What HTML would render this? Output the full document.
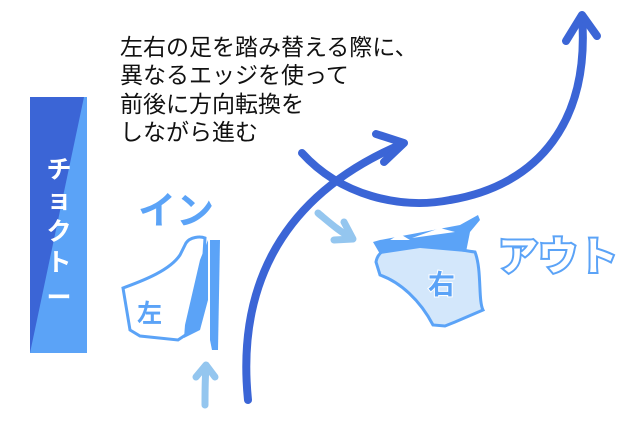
<!DOCTYPE html>
<html><head><meta charset="utf-8"><style>
html,body{margin:0;padding:0;background:#fff;width:629px;height:431px;overflow:hidden}
svg{display:block}
</style></head><body>
<svg width="629" height="431" viewBox="0 0 629 431" xmlns="http://www.w3.org/2000/svg" font-family="Liberation Sans, Noto Sans CJK JP, sans-serif">
<!-- banner -->
<rect x="30" y="97" width="57" height="256" fill="#5ba3f7"/>
<polygon points="30,97 84,97 30,353" fill="#3b65d6"/>
<g fill="#fff" font-size="25" font-weight="bold" text-anchor="middle">
<text x="59" y="178">チ</text>
<text x="59" y="208">ョ</text>
<text x="59" y="240">ク</text>
<text x="59" y="271">ト</text>
<text x="59" y="306">ー</text>
</g>
<!-- text -->
<g fill="#111" font-size="23">
<text x="120" y="55">左右の足を踏み替える際に、</text>
<text x="120" y="83">異なるエッジを使って</text>
<text x="120" y="112">前後に方向転換を</text>
<text x="120" y="140">しながら進む</text>
</g>
<!-- big arrows -->
<g fill="none" stroke="#3b65d6" stroke-width="8" stroke-linecap="round" stroke-linejoin="round">
<path d="M248,400 C238,300 270,200 402,144"/>
<path d="M376,134 L404,143 L384,162"/>
<path d="M302,153 C340,195 400,210 450,200 C540,185 590,120 582,16"/>
<path d="M566,41 L582,15 L597,36"/>
</g>
<!-- small arrows -->
<g fill="none" stroke="#94c6ef" stroke-width="7" stroke-linecap="round" stroke-linejoin="round">
<path d="M205,405 C205,390 205,378 206,368"/>
<path d="M196,377 L206,365 L215,377"/>
<path d="M318,213 C330,223 340,232 352,238"/>
<path d="M344,222 L353,239 L334,240"/>
</g>
<!-- left boot -->
<text x="138" y="224" font-size="38" font-weight="bold" fill="#5ba3f7">イン</text>
<path d="M123,288 C145,280 170,270 180,255 L186,243 C190,237 200,236 205,238 L200,320 L190,332 L178,340 L140,336 L130,330 Z" fill="#fff" stroke="#5ba3f7" stroke-width="3"/>
<path d="M200,260 L208,240 L208,300 L200,330 L184,338 L185,325 Z" fill="#5ba3f7"/>
<path d="M210,240 L220,240 L218,350 L212,350 L210,340 Z" fill="#5ba3f7"/>
<text x="137" y="322" font-size="25" font-weight="bold" fill="#5ba3f7">左</text>
<!-- right boot -->
<path d="M376,262 C378,250 390,245 410,244 C440,245 460,250 475,252 C482,270 478,300 483,310 L455,322 L445,326 L433,325 C420,300 400,282 380,275 Z" fill="#d3e7fb" stroke="#5ba3f7" stroke-width="3"/>
<path d="M373,242 L380,254 L420,248 L466,252 L470,232 L480,220 L478,215 L460,225 L380,240 Z" fill="#5ba3f7"/>
<path d="M390,240 L400,234 L410,240 Z M412,238 L440,228 L455,232 Z" fill="#fff"/>
<text x="428" y="294" font-size="27" font-weight="bold" fill="#5ba3f7" stroke="#fff" stroke-width="2" paint-order="stroke">右</text>
<text x="498" y="270" font-size="40" font-weight="bold" fill="#fff" stroke="#5ba3f7" stroke-width="4" paint-order="stroke">アウト</text>
</svg>
</body></html>
